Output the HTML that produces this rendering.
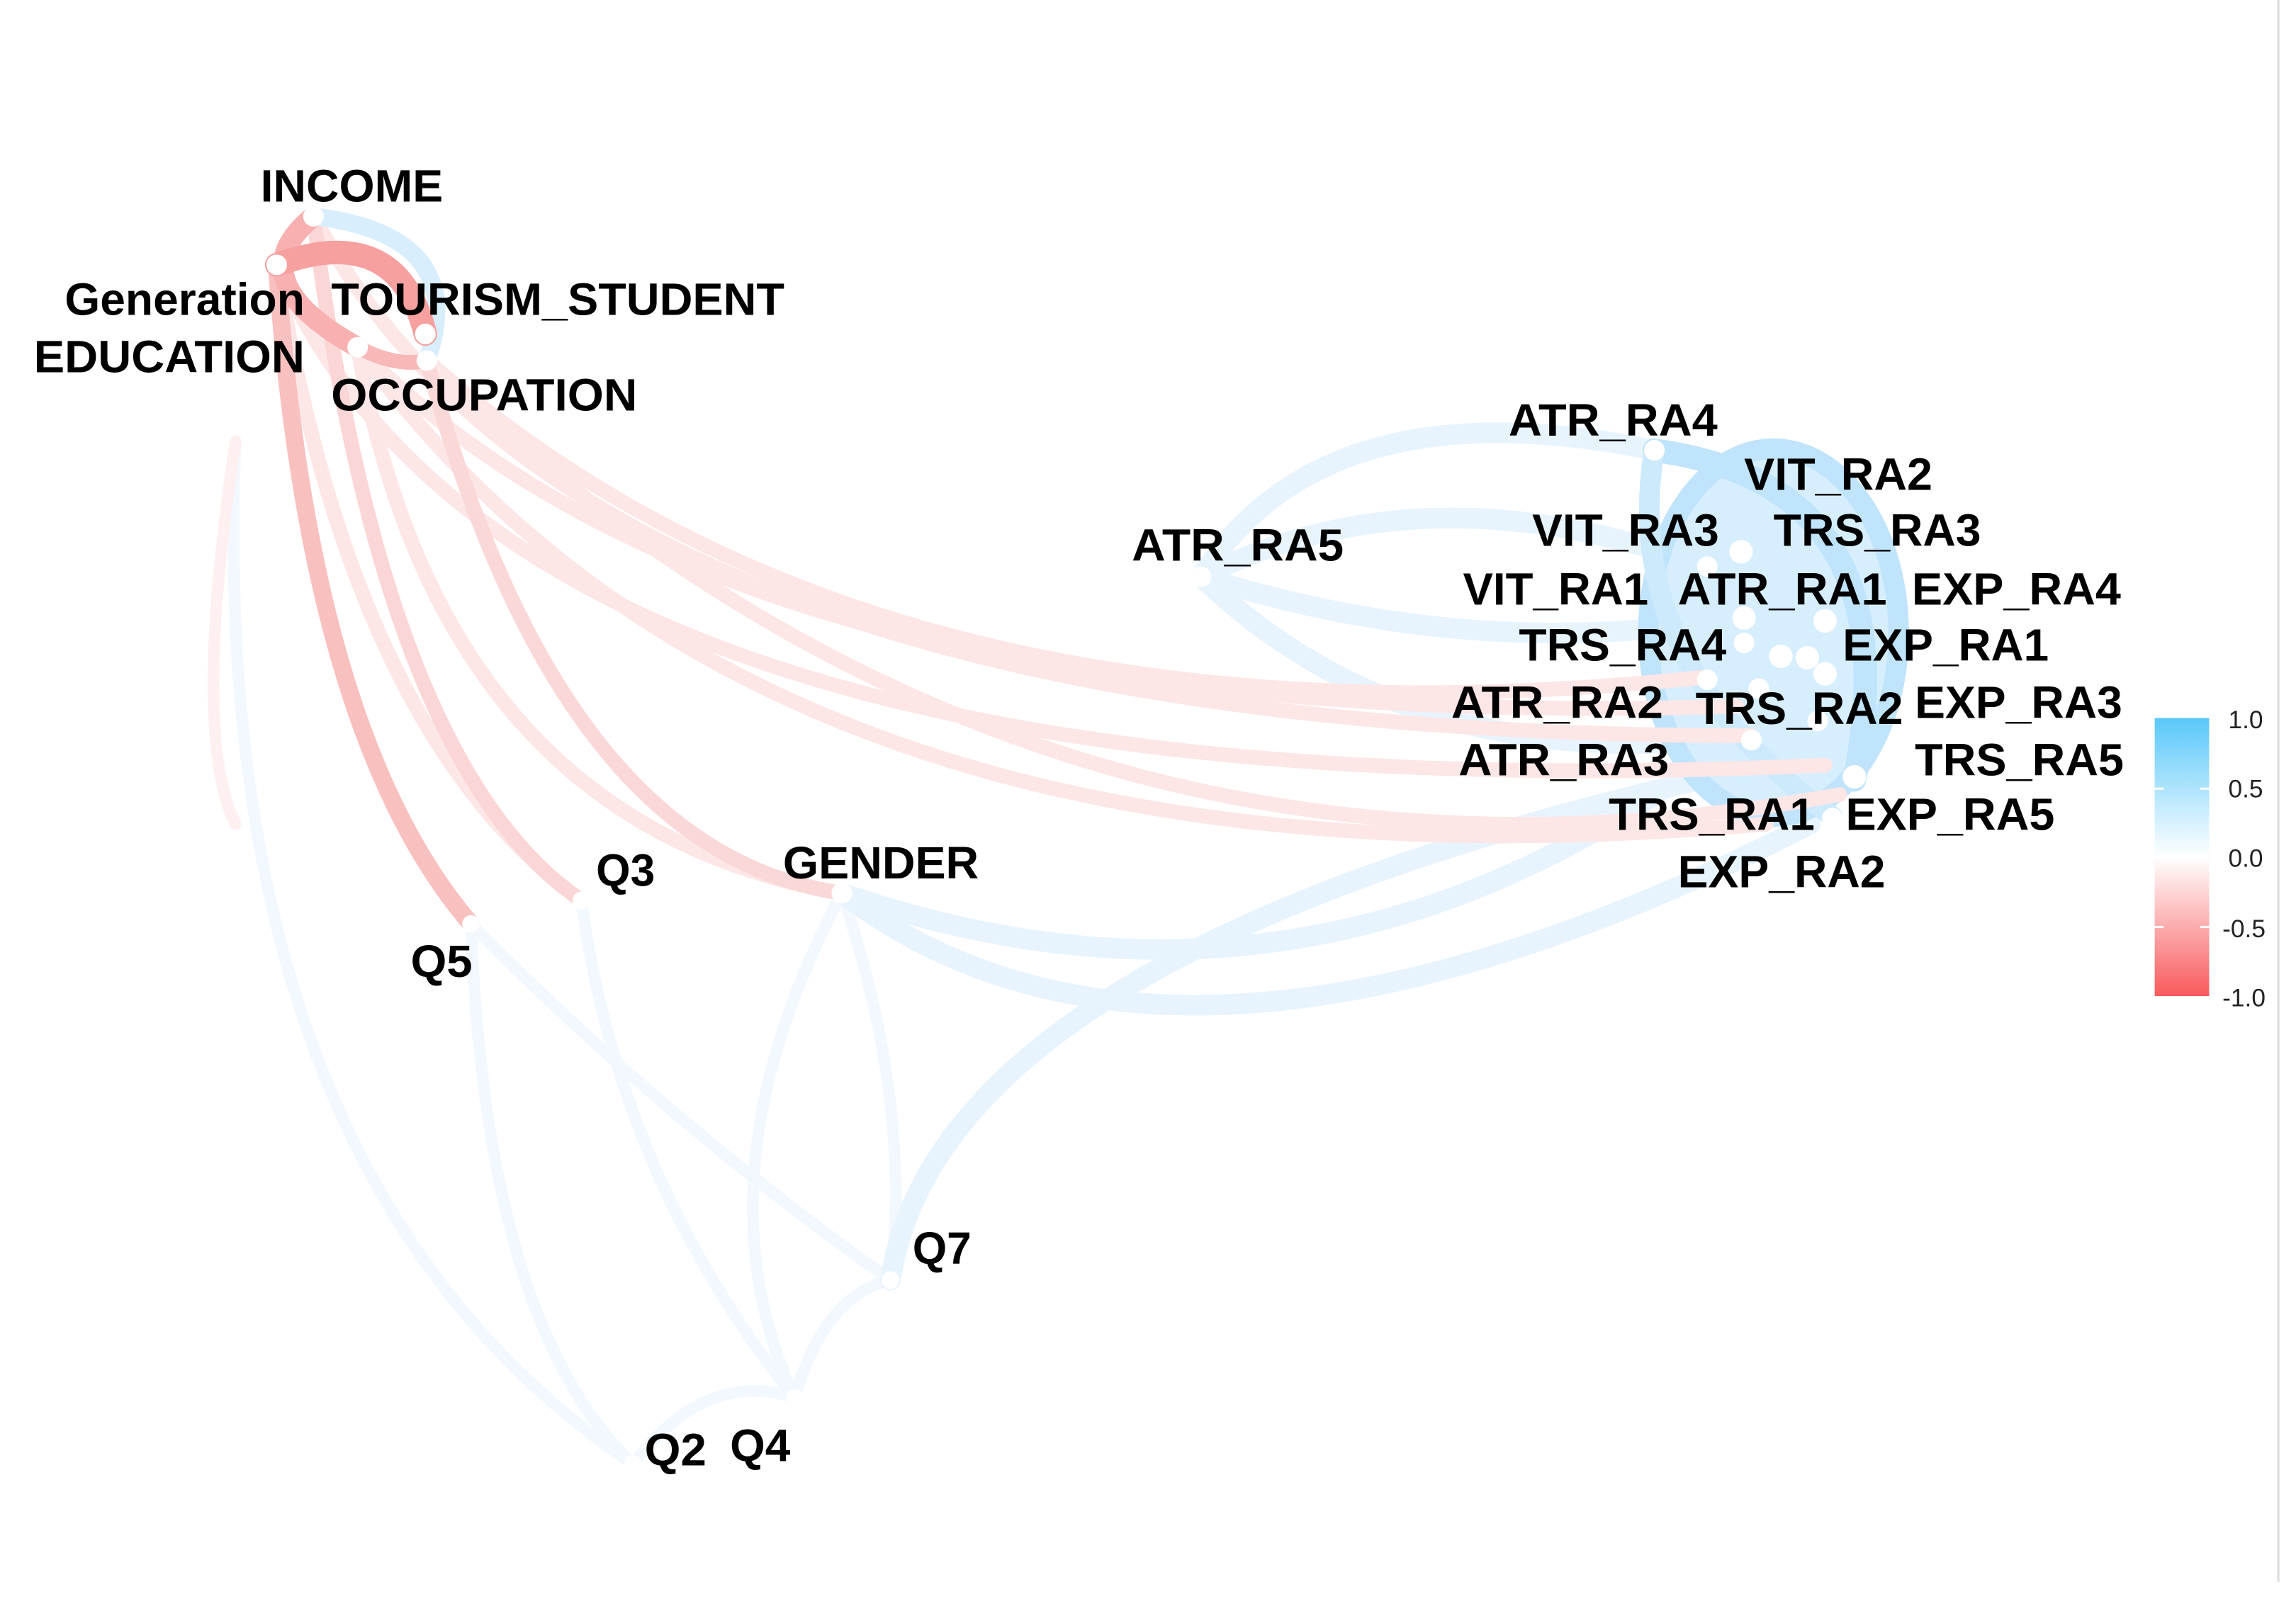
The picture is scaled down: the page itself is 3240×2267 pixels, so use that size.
<!DOCTYPE html>
<html><head><meta charset="utf-8"><style>
html,body{margin:0;padding:0;background:#fff}
svg{display:block}
text{font-family:"Liberation Sans",Arial,sans-serif;font-weight:bold;fill:#000}
.l{font-size:17px;font-weight:normal;fill:#222}
</style></head><body>
<svg width="3240" height="2267" viewBox="0 0 1560 1091.5" preserveAspectRatio="none" xmlns="http://www.w3.org/2000/svg">
<defs>
<linearGradient id="lg" x1="0" y1="0" x2="0" y2="1">
<stop offset="0" stop-color="#5ac8fa"/><stop offset="0.5" stop-color="#ffffff"/><stop offset="1" stop-color="#f85a5c"/>
</linearGradient>
</defs>
<line x1="1548" y1="0" x2="1548" y2="1075" stroke="#ddd" stroke-width="1.5"/>
<g fill="none" stroke-linecap="round">
<g stroke="#f2f8fe" stroke-width="8">
<path d="M160 300 Q140 800 430 995"/>
<path d="M320 628 Q330 900 430 995"/>
<path d="M395 612 Q420 800 540 950"/>
<path d="M572 607 Q470 800 540 950"/>
<path d="M572 607 Q620 750 605 870"/>
<path d="M605 870 Q560 880 540 950"/>
<path d="M430 995 Q480 930 540 950"/>
<path d="M320 628 Q450 760 605 870"/>
</g>
<g stroke="#e8f4fd" stroke-width="14">
<path d="M572 607 Q800 780 1230 560"/>
<path d="M572 607 Q900 720 1180 500"/>
<path d="M605 870 Q640 640 1200 520"/>
<path d="M816 392 Q900 260 1124 306"/>
<path d="M816 392 Q1000 450 1180 420"/>
<path d="M816 392 Q960 530 1190 500"/>
<path d="M816 392 Q1000 300 1240 420"/>
</g>
<ellipse cx="1205" cy="430" rx="85" ry="125" fill="#d6eefd" stroke="#c0e4fb" stroke-width="14"/>
<path d="M1124 306 Q1300 330 1260 530" stroke="#bfe4fb" stroke-width="16"/>
<path d="M1124 306 Q1100 450 1245 555" stroke="#cdeafc" stroke-width="14"/>
<g stroke="#fde6e6" stroke-width="10">
<path d="M243 236 Q500 500 1180 480"/>
<path d="M290 245 Q600 520 1160 460"/>
<path d="M213 147 Q400 500 1190 500"/>
<path d="M188 180 Q350 560 1240 520"/>
<path d="M243 236 Q520 620 1200 560"/>
<path d="M290 245 Q700 640 1250 540"/>
<path d="M188 180 Q240 500 395 612"/>
<path d="M243 236 Q300 560 572 607"/>
</g>
<path d="M188 180 Q210 500 320 628" stroke="#f9c0c0" stroke-width="12"/>
<path d="M213 147 Q260 520 395 612" stroke="#fbd6d6" stroke-width="10"/>
<path d="M290 245 Q380 580 572 607" stroke="#fbd8d8" stroke-width="10"/>
<path d="M160 300 Q130 500 160 560" stroke="#fef0f0" stroke-width="8"/>
<path d="M213 147 Q160 190 243 236" stroke="#f8b0b0" stroke-width="14"/>
<path d="M213 147 Q320 160 290 245" stroke="#d9eefc" stroke-width="12"/>
<path d="M188 180 Q270 150 289 227" stroke="#f6a0a0" stroke-width="16"/>
<path d="M243 236 Q270 250 290 245" stroke="#f8b8b8" stroke-width="10"/>
</g>
<g fill="#fff">
<circle cx="213" cy="147" r="7"/><circle cx="188" cy="180" r="7"/><circle cx="243" cy="236" r="7"/>
<circle cx="289" cy="227" r="7"/><circle cx="290" cy="245" r="7"/>
<circle cx="1124" cy="306" r="7"/><circle cx="816" cy="392" r="7"/><circle cx="572" cy="607" r="7"/>
<circle cx="395" cy="612" r="6"/><circle cx="320" cy="628" r="6"/><circle cx="605" cy="870" r="6"/>
<circle cx="430" cy="995" r="6"/><circle cx="540" cy="950" r="6"/>
<circle cx="1183" cy="375" r="8"/><circle cx="1160" cy="385" r="7"/><circle cx="1185" cy="420" r="8"/>
<circle cx="1240" cy="422" r="8"/><circle cx="1185" cy="437" r="7"/><circle cx="1210" cy="446" r="8"/>
<circle cx="1228" cy="447" r="8"/><circle cx="1240" cy="458" r="8"/><circle cx="1160" cy="462" r="7"/>
<circle cx="1195" cy="468" r="7"/><circle cx="1235" cy="490" r="7"/><circle cx="1190" cy="503" r="7"/>
<circle cx="1260" cy="528" r="8"/><circle cx="1245" cy="556" r="7"/>
</g>
<g font-size="31">
<text x="177" y="137" textLength="124" lengthAdjust="spacingAndGlyphs">INCOME</text>
<text x="44" y="214" textLength="163" lengthAdjust="spacingAndGlyphs">Generation</text>
<text x="225" y="214" textLength="308" lengthAdjust="spacingAndGlyphs">TOURISM_STUDENT</text>
<text x="23" y="253" textLength="184" lengthAdjust="spacingAndGlyphs">EDUCATION</text>
<text x="225" y="279" textLength="208" lengthAdjust="spacingAndGlyphs">OCCUPATION</text>
<text x="1025" y="296" textLength="142" lengthAdjust="spacingAndGlyphs">ATR_RA4</text>
<text x="1185" y="333" textLength="128" lengthAdjust="spacingAndGlyphs">VIT_RA2</text>
<text x="1041" y="371" textLength="127" lengthAdjust="spacingAndGlyphs">VIT_RA3</text>
<text x="1205" y="371" textLength="141" lengthAdjust="spacingAndGlyphs">TRS_RA3</text>
<text x="769" y="381" textLength="144" lengthAdjust="spacingAndGlyphs">ATR_RA5</text>
<text x="994" y="411" textLength="126" lengthAdjust="spacingAndGlyphs">VIT_RA1</text>
<text x="1140" y="411" textLength="142" lengthAdjust="spacingAndGlyphs">ATR_RA1</text>
<text x="1299" y="411" textLength="142" lengthAdjust="spacingAndGlyphs">EXP_RA4</text>
<text x="1032" y="449" textLength="141" lengthAdjust="spacingAndGlyphs">TRS_RA4</text>
<text x="1252" y="449" textLength="140" lengthAdjust="spacingAndGlyphs">EXP_RA1</text>
<text x="986" y="488" textLength="144" lengthAdjust="spacingAndGlyphs">ATR_RA2</text>
<text x="1152" y="492" textLength="141" lengthAdjust="spacingAndGlyphs">TRS_RA2</text>
<text x="1301" y="488" textLength="141" lengthAdjust="spacingAndGlyphs">EXP_RA3</text>
<text x="991" y="527" textLength="143" lengthAdjust="spacingAndGlyphs">ATR_RA3</text>
<text x="1301" y="527" textLength="142" lengthAdjust="spacingAndGlyphs">TRS_RA5</text>
<text x="1093" y="564" textLength="140" lengthAdjust="spacingAndGlyphs">TRS_RA1</text>
<text x="1254" y="564" textLength="142" lengthAdjust="spacingAndGlyphs">EXP_RA5</text>
<text x="1140" y="603" textLength="141" lengthAdjust="spacingAndGlyphs">EXP_RA2</text>
<text x="532" y="597" textLength="133" lengthAdjust="spacingAndGlyphs">GENDER</text>
<text x="405" y="602" textLength="40" lengthAdjust="spacingAndGlyphs">Q3</text>
<text x="279" y="664" textLength="42" lengthAdjust="spacingAndGlyphs">Q5</text>
<text x="620" y="859" textLength="40" lengthAdjust="spacingAndGlyphs">Q7</text>
<text x="438" y="996" textLength="42" lengthAdjust="spacingAndGlyphs">Q2</text>
<text x="496" y="993" textLength="41" lengthAdjust="spacingAndGlyphs">Q4</text>
</g>
<rect x="1464" y="488" width="37" height="189" fill="url(#lg)"/>
<g stroke="#fff" stroke-width="1.5">
<line x1="1464" y1="536" x2="1470" y2="536"/><line x1="1495" y1="536" x2="1501" y2="536"/>
<line x1="1464" y1="583" x2="1470" y2="583"/><line x1="1495" y1="583" x2="1501" y2="583"/>
<line x1="1464" y1="630" x2="1470" y2="630"/><line x1="1495" y1="630" x2="1501" y2="630"/>
</g>
<text class="l" x="1514" y="495">1.0</text>
<text class="l" x="1514" y="542">0.5</text>
<text class="l" x="1514" y="589">0.0</text>
<text class="l" x="1510" y="637">-0.5</text>
<text class="l" x="1510" y="684">-1.0</text>
</svg>
</body></html>
